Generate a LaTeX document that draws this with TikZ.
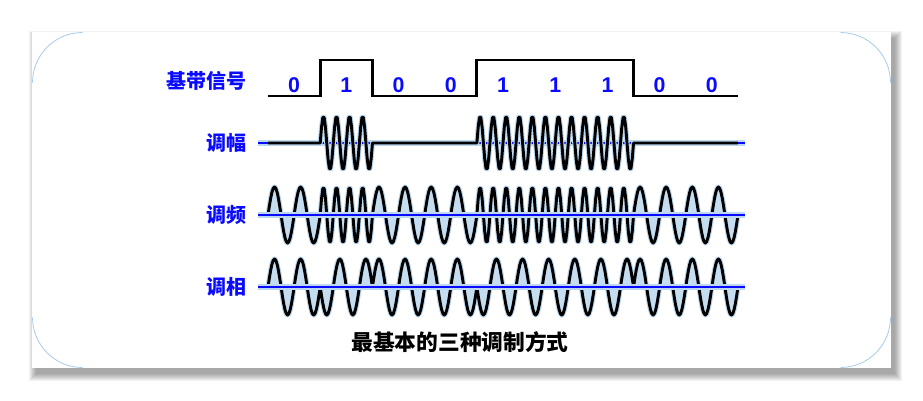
\documentclass[tikz,border=0pt]{standalone}
\usepackage{fontspec}
\setmainfont{Liberation Sans}
\newfontfamily\cjk{Noto Sans CJK SC}
\usepackage{tikz}
\usepackage{xcolor}
\usetikzlibrary{positioning, calc}
\definecolor{cSig}  {HTML}{0A0AFF}
\definecolor{cHalo} {HTML}{BCD8EF}
\definecolor{cFill} {HTML}{C5DDF1}
\definecolor{cArc}  {HTML}{A9CBE8}
\def\bits{0,1,0,0,1,1,1,0,0}
\def\bw{52.22}

\tikzset{
  lbl/.style={font=\cjk\bfseries\fontsize{15}{18}\selectfont, text=cSig, anchor=east, inner sep=0pt},
  digit/.style={font=\bfseries\fontsize{16}{18}\selectfont, text=cSig, inner sep=0pt},
  wave/.style={draw=black, line width=2.2pt, line join=round,
    preaction={draw=cHalo, line width=3.8pt, line join=round}},
  axis/.style={draw=cSig, line width=1.4pt, preaction={draw=cHalo, line width=4pt}},
}

\begin{document}
\begin{tikzpicture}[x=0.75pt, y=-0.75pt]
  \useasboundingbox (0,0) rectangle (923,400);
  % card with soft shadow
  \foreach \k in {0,...,7}
    \fill[black, opacity=0.05] ({36-\k},{38-\k}) rectangle ({895+\k},{374+\k});
  \fill[white] (32,32) rectangle (891,368);
  % faint rounded corners
  \draw[cArc, line width=0.6pt, rounded corners=37.5pt]
    (32.5,82) -- (32.5,32.5) -- (82,32.5)
    (841,32.5) -- (890.5,32.5) -- (890.5,82)
    (890.5,318) -- (890.5,367.5) -- (841,367.5)
    (82,367.5) -- (32.5,367.5) -- (32.5,318);

  % baseband signal
  \node[lbl] (lblbase) at (247,81) {基带信号};
  \draw[black, line width=2.2pt, line join=miter] (268,96) foreach \b [count=\i from 0] in \bits {
    -- ({268+\i*\bw},{96-36*\b}) -- ({268+(\i+1)*\bw},{96-36*\b})
  };
  \foreach \b [count=\i from 0] in \bits
    \node[digit] (bit\i) at ({268+(\i+0.5)*\bw},85) {\b};

  % amplitude modulation
  \node[lbl] (lblam) at (247,143) {调幅};
  \draw[axis] (258,143) -- (745,143);
  \draw[wave] (268,143) foreach \b [count=\i from 0] in \bits {
    -- plot[domain=0:1, samples=41, variable=\t] ({268+(\i+\t)*\bw}, {143-27*\b*sin(4*360*\t)})
  };

  % frequency modulation
  \node[lbl] (lblfm) at (247,215) {调频};
  \draw[wave, fill=cFill] (268,215) foreach \b [count=\i from 0] in \bits {
    -- plot[domain=0:1, samples=41, variable=\t] ({268+(\i+\t)*\bw}, {215-28*sin((2+2*\b)*360*\t)})
  };
  \draw[axis] (258,215) -- (745,215);

  % phase modulation
  \node[lbl] (lblpm) at (247,287) {调相};
  \draw[wave, fill=cFill] (268,287) foreach \b [count=\i from 0] in \bits {
    -- plot[domain=0:1, samples=41, variable=\t] ({268+(\i+\t)*\bw}, {287-28*(1-2*\b)*sin(2*360*\t)})
  };
  \draw[axis] (258,287) -- (745,287);

  \node[font=\cjk\bfseries\fontsize{16.3}{19}\selectfont, inner sep=0pt] (title) at (460,342)
    {最基本的三种调制方式};
\end{tikzpicture}
\end{document}
